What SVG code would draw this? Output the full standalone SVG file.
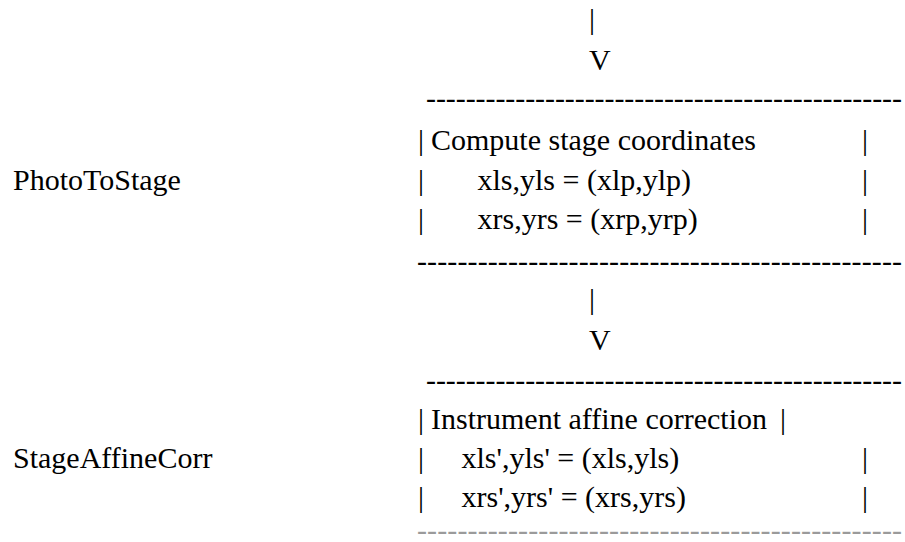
<svg xmlns="http://www.w3.org/2000/svg" width="905" height="542" viewBox="0 0 905 542">
<style>
text{font-family:"Liberation Serif","Times New Roman",serif;font-size:30px;fill:#000;white-space:pre}
.faint{fill:#9a9a9a}
</style>
<rect width="905" height="542" fill="#fff"/>
<g id="connectors">
<text x="589" y="29">|</text>
<text x="589" y="70">V</text>
<text x="589" y="309">|</text>
<text x="589" y="350">V</text>
</g>
<g id="node-photo-to-stage">
<text x="13" y="190">PhotoToStage</text>
<text x="426" y="108" textLength="476" lengthAdjust="spacing">------------------------------------------------</text>
<text x="418" y="150">|</text>
<text x="431" y="150">Compute stage coordinates</text>
<text x="862" y="150">|</text>
<text x="418" y="190">|</text>
<text x="477.5" y="190">xls,yls = (xlp,ylp)</text>
<text x="862" y="190">|</text>
<text x="418" y="229">|</text>
<text x="477.5" y="229">xrs,yrs = (xrp,yrp)</text>
<text x="862" y="229">|</text>
<text x="417" y="271" textLength="485" lengthAdjust="spacing">------------------------------------------------</text>
</g>
<g id="node-stage-affine-corr">
<text x="13" y="468">StageAffineCorr</text>
<text x="426" y="390" textLength="476" lengthAdjust="spacing">------------------------------------------------</text>
<text x="418" y="429">|</text>
<text x="431" y="429">Instrument affine correction</text>
<text x="780" y="429">|</text>
<text x="418" y="468">|</text>
<text x="461.5" y="468">xls',yls' = (xls,yls)</text>
<text x="862" y="468">|</text>
<text x="418" y="507">|</text>
<text x="461.5" y="507">xrs',yrs' = (xrs,yrs)</text>
<text x="862" y="507">|</text>
<text class="faint" x="417" y="540" textLength="485" lengthAdjust="spacing">------------------------------------------------</text>
</g>
</svg>
